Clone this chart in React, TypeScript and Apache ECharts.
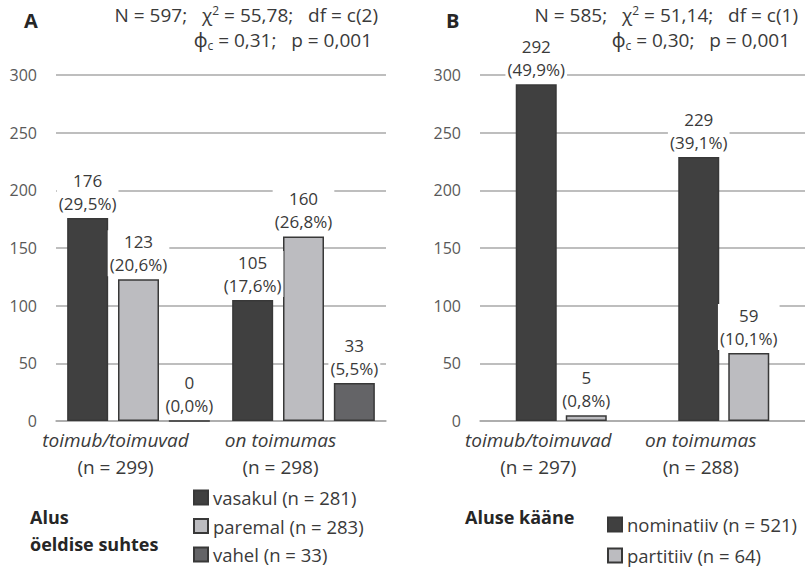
import React, { useEffect, useRef } from "react";
import * as echarts from "echarts";

// Panel A: subject position relative to the verb
const catsA = ["toimub/toimuvad", "on toimumas"];
const nA = [299, 298];
const vasakul = [176, 105];
const paremal = [123, 160];
const vahel = [0, 33];
const pctVasakul = ["29,5", "17,6"];
const pctParemal = ["20,6", "26,8"];
const pctVahel = ["0,0", "5,5"];
const legendA = ["vasakul (n = 281)", "paremal (n = 283)", "vahel (n = 33)"];

// Panel B: case of the subject
const catsB = ["toimub/toimuvad", "on toimumas"];
const nB = [297, 288];
const nominatiiv = [292, 229];
const partitiiv = [5, 59];
const pctNominatiiv = ["49,9", "39,1"];
const pctPartitiiv = ["0,8", "10,1"];
const legendB = ["nominatiiv (n = 521)", "partitiiv (n = 64)"];

const yTicks = { min: 0, max: 300, interval: 50 };

const FONT = "'Open Sans', 'Noto Sans', sans-serif";
const DARK = "#404040";
const LIGHT = "#bcbcc0";
const MID = "#646467";
const EDGE = "#383838";
const GRID = "#a9a9a9";
const TEXT = "#3a3a3a";

function barSeries(
  name: string,
  data: number[],
  pct: string[],
  color: string,
  axis: number
) {
  return {
    name,
    type: "bar",
    xAxisIndex: axis,
    yAxisIndex: axis,
    barWidth: 41,
    barGap: axis === 0 ? "24%" : "22%",
    data,
    itemStyle: { color, borderColor: EDGE, borderWidth: 1.5 },
    label: {
      show: true,
      position: "top",
      distance: 3,
      formatter: (p: any) => `${data[p.dataIndex]}\n(${pct[p.dataIndex]}%)`,
      fontFamily: FONT,
      fontSize: 17,
      lineHeight: 23,
      color: TEXT,
      backgroundColor: "#ffffff",
      padding: [0, 2, 0, 2],
    },
  };
}

function catAxis(cats: string[], ns: number[], grid: number, shift: number) {
  return {
    type: "category",
    gridIndex: grid,
    data: cats,
    axisTick: { show: false },
    axisLine: { lineStyle: { color: GRID, width: 1.5 } },
    axisLabel: {
      interval: 0,
      margin: 5,
      padding: [0, shift, 0, 0],
      formatter: (v: string, i: number) => `{c|${v}}\n{n|(n = ${ns[i]})}`,
      rich: {
        c: {
          fontFamily: FONT,
          fontSize: 19,
          fontStyle: "italic",
          color: TEXT,
          lineHeight: 27,
        },
        n: { fontFamily: FONT, fontSize: 19, color: TEXT, lineHeight: 27 },
      },
    },
  };
}

function valAxis(grid: number) {
  return {
    type: "value",
    gridIndex: grid,
    ...yTicks,
    axisLine: { show: false },
    axisTick: { show: false },
    splitLine: { lineStyle: { color: GRID, width: 1.5 } },
    axisLabel: { margin: 19, fontFamily: FONT, fontSize: 16, color: "#595959" },
  };
}

function statText(right: number, top: number, rich: string) {
  return {
    type: "text",
    right,
    top,
    style: {
      text: rich,
      fontFamily: FONT,
      fontSize: 19,
      fill: TEXT,
      rich: {
        sup: { fontSize: 12, verticalAlign: "top", padding: [0, 0, 9, 0], fill: TEXT, fontFamily: FONT },
        sub: { fontSize: 12, padding: [11, 0, 0, 0], fill: TEXT, fontFamily: FONT },
      },
    },
  };
}

function boldText(left: number, top: number, text: string, size = 18) {
  return {
    type: "text",
    left,
    top,
    style: { text, fontFamily: FONT, fontSize: size, fontWeight: "bold", fill: "#262626", lineHeight: 27 },
  };
}

function legend(data: string[], left: number, top: number, gap: number) {
  return {
    data,
    orient: "vertical",
    left,
    top,
    height: 90,
    padding: 0,
    icon: "rect",
    itemWidth: 14,
    itemHeight: 14,
    itemGap: gap,
    textStyle: { fontFamily: FONT, fontSize: 18.5, color: TEXT, lineHeight: 18 },
  };
}

export default function App() {
  const ref = useRef<HTMLDivElement>(null);

  useEffect(() => {
    if (!ref.current) return;
    const chart = echarts.init(ref.current, undefined, { renderer: "svg" });
    chart.setOption({
      animation: false,
      backgroundColor: "#ffffff",
      grid: [
        { left: 56, right: 419, top: 75, bottom: 146 },
        { left: 480, right: 0, top: 75, bottom: 146 },
      ],
      xAxis: [catAxis(catsA, nA, 0, 46), catAxis(catsB, nB, 1, 46)],
      yAxis: [valAxis(0), valAxis(1)],
      legend: [legend(legendA, 193, 488, 9.5), legend(legendB, 607, 515, 12)],
      graphic: [
        boldText(24, 7, "A", 20),
        boldText(446, 7, "B", 20),
        statText(427, 4, "N = 597;   χ{sup|2} = 55,78;   df = c(2)"),
        statText(433, 30, "ϕ{sub|c} = 0,31;   p = 0,001"),
        statText(7, 4, "N = 585;   χ{sup|2} = 51,14;   df = c(1)"),
        statText(15, 30, "ϕ{sub|c} = 0,30;   p = 0,001"),
        boldText(30, 503, "Alus\nöeldise suhtes"),
        boldText(465, 503, "Aluse kääne"),
      ],
      series: [
        barSeries(legendA[0], vasakul, pctVasakul, DARK, 0),
        barSeries(legendA[1], paremal, pctParemal, LIGHT, 0),
        barSeries(legendA[2], vahel, pctVahel, MID, 0),
        barSeries(legendB[0], nominatiiv, pctNominatiiv, DARK, 1),
        barSeries(legendB[1], partitiiv, pctPartitiiv, LIGHT, 1),
      ],
    });
    return () => chart.dispose();
  }, []);

  return (
    <div
      ref={ref}
      style={{ position: "fixed", left: 0, top: 0, width: 805, height: 567 }}
    />
  );
}
